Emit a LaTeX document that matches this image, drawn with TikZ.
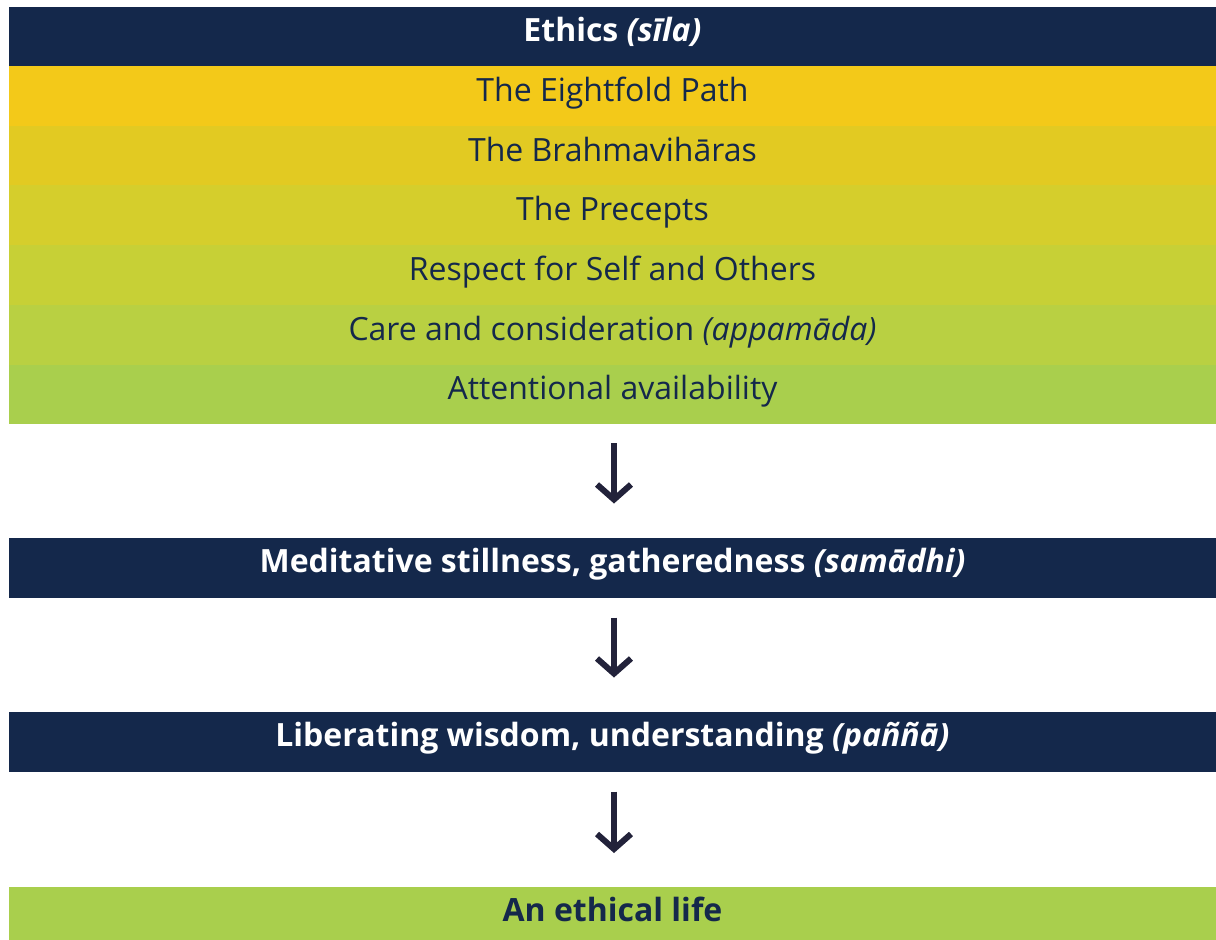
\documentclass[tikz,border=0pt]{standalone}
\usepackage{fontspec}
\setmainfont{Open Sans}
\usetikzlibrary{arrows.meta}
\definecolor{navy}{HTML}{14284B}
\definecolor{arrowc}{HTML}{22223A}
\definecolor{rowA}{HTML}{F3C919}
\definecolor{rowB}{HTML}{E2CA22}
\definecolor{rowC}{HTML}{D5CE2C}
\definecolor{rowD}{HTML}{C7D036}
\definecolor{rowE}{HTML}{B9D042}
\definecolor{rowF}{HTML}{A9CF4D}
\tikzset{
  band/.style={anchor=north west, minimum width=1207pt, inner sep=0pt, outer sep=0pt},
  header/.style={band, fill=navy, text=white, text height=22pt, text depth=13pt,
    font=\fontsize{32}{38}\selectfont\bfseries},
  row/.style={band, minimum height=59.7pt, text=navy, text height=23pt, text depth=12pt,
    font=\fontsize{32}{38}\selectfont},
  final/.style={band, fill=rowF, text=navy, text height=24pt, text depth=9pt,
    font=\fontsize{32}{38}\selectfont\bfseries},
  flow/.style={draw=arrowc, line width=6pt, -{Straight Barb[length=15pt,width=34pt,line width=6pt]}},
}
\begin{document}
\begin{tikzpicture}[x=1pt,y=-1pt]
\useasboundingbox (0,0) rectangle (1216,940);
% Ethics block
\node[header, minimum height=59pt] (ethics) at (9,7) {Ethics \textit{(sīla)}};
\node[row, fill=rowA] (r1) at (9,66) {The Eightfold Path};
\node[row, fill=rowB] (r2) at (9,125.7) {The Brahmavihāras};
\node[row, fill=rowC] (r3) at (9,185.4) {The Precepts};
\node[row, fill=rowD] (r4) at (9,245.1) {Respect for Self and Others};
\node[row, fill=rowE] (r5) at (9,304.8) {Care and consideration \textit{(appamāda)}};
\node[row, fill=rowF] (r6) at (9,364.5) {Attentional availability};
% Following stages
\node[header, minimum height=60pt] (samadhi) at (9,537.5) {Meditative stillness, gatheredness \textit{(samādhi)}};
\node[header, minimum height=60pt] (panna) at (9,711.5) {Liberating wisdom, understanding \textit{(paññā)}};
\node[final, minimum height=53pt] (life) at (9,887) {An ethical life};
% Connectors
\draw[flow, shorten <=19pt, shorten >=34pt] ([xshift=1.5pt]r6.south) -- ([xshift=1.5pt]samadhi.north);
\draw[flow, shorten <=20pt, shorten >=34pt] ([xshift=1.5pt]samadhi.south) -- ([xshift=1.5pt]panna.north);
\draw[flow, shorten <=20pt, shorten >=34pt] ([xshift=1.5pt]panna.south) -- ([xshift=1.5pt]life.north);
\end{tikzpicture}
\end{document}
